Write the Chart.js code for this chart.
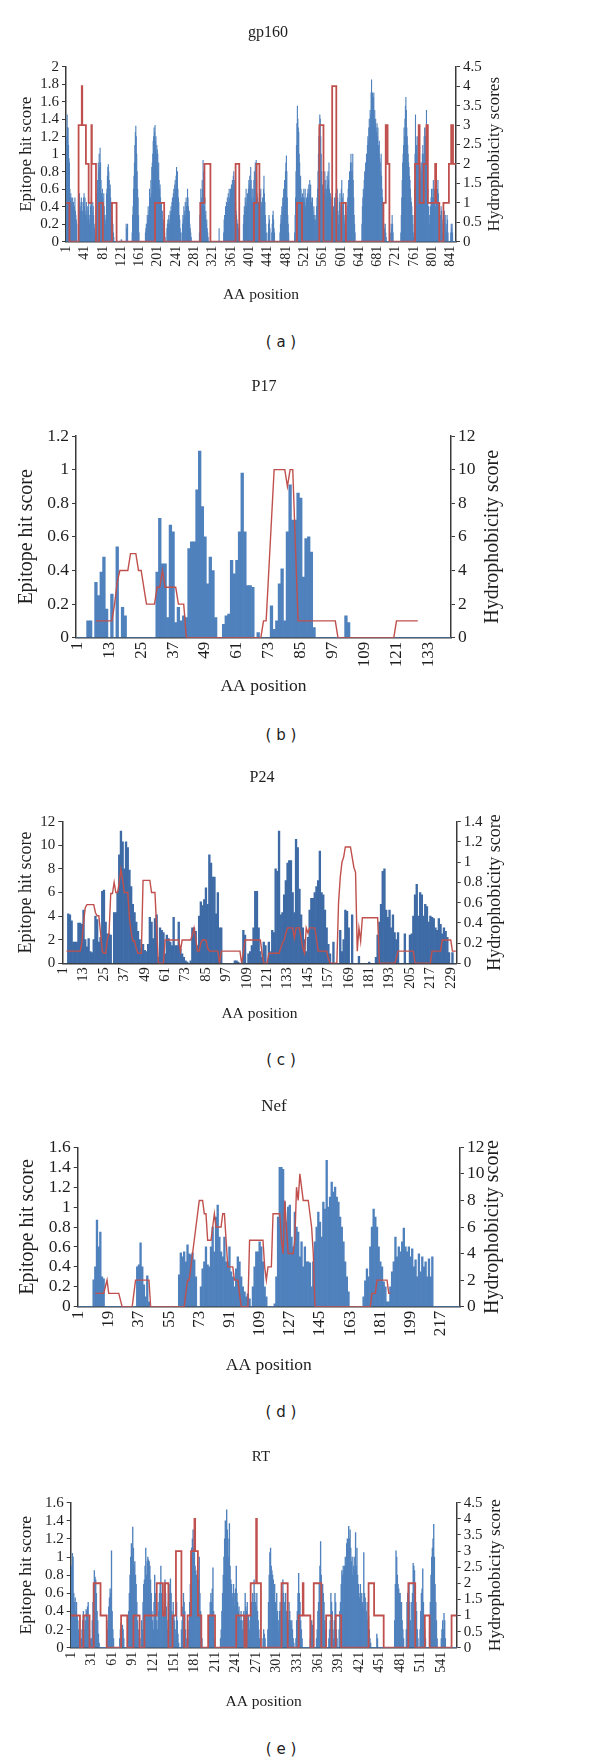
<!DOCTYPE html>
<html>
<head>
<meta charset="utf-8">
<title>Epitope hit score and hydrophobicity score</title>
<script src="https://cdn.jsdelivr.net/npm/chart.js@4.4.1/dist/chart.umd.min.js"></script>
<style>
  html, body { margin: 0; padding: 0; background: #fff; }
  body { position: relative; width: 600px; height: 1764px; overflow: hidden; }
  canvas { position: absolute; left: 0; }
  .cap { position: absolute; left: 181px; width: 200px; text-align: center;
         font-family: "DejaVu Sans", sans-serif; font-size: 15px; line-height: 20px; color: #222; }
</style>
</head>
<body>
<canvas id="gp160"></canvas>
<canvas id="p17"></canvas>
<canvas id="p24"></canvas>
<canvas id="nef"></canvas>
<canvas id="rt"></canvas>
<div class="cap" style="top:332px">( a )</div>
<div class="cap" style="top:725px">( b )</div>
<div class="cap" style="top:1050px">( c )</div>
<div class="cap" style="top:1402px">( d )</div>
<div class="cap" style="top:1739px">( e )</div>
<script>
// ---- gp160 : epitope hit score per residue (1..852) ----
const gpBars = [
  1.0,1.2,1.45,1.3,1.3,1.1,0.95,0.9, 0.6,0.5,0.55,0.5,0.45,0.4,0.5,0.35, 0.45,0.3,0.4,0.5,0.35,0.3,0.25,0.2, 0,0,0,0.3,0.4,0.55,0.45,0.35, 0.4,0.5,0.45,0.3,0.35,0.45,0.5,0.55,
  0.4,0.5,0.3,0.35,0.45,0.3,0.25,0.4, 0.35,0.45,0.3,0.2,0.25,0.4,0.45,0.5, 0.35,0.3,0.45,0.4,0.3,0.2,0.15,0.05, 0,0.1,0.4,0.55,0.7,0.6,0.9,0.8, 1.0,0.85,1.07,0.9,0.7,0.55,0.5,0.6,
  0.5,0.45,0.55,0.4,0.3,0.25,0.2,0.3, 0.55,0.6,0.75,0.85,0.88,0.8,0.7,0.6, 0.65,0.5,0.4,0.45,0.3,0.25,0.2,0.1, 0.05,0,0,0,0,0,0,0, 0,0,0,0,0,0,0,0,
  0.02,0.02,0,0,0,0,0,0, 0,0,0,0.2,0.15,0,0.2,0, 0,0,0,0,0,0,0,0, 0.1,0.3,0.4,0.6,0.75,0.9,1.1,1.25, 1.32,1.2,1.0,0.8,0.6,0.5,0.3,0.1,
  0,0,0,0,0,0,0,0, 0,0,0,0,0,0.1,0.15,0.2, 0.2,0.3,0.25,0.4,0.3,0.35,0.6,0.45, 0.5,0.7,0.55,0.85,0.9,1.0,1.15,1.2, 1.3,1.25,1.33,1.15,1.2,1.0,1.1,1.05,
  1.0,0.8,0.9,0.7,0.6,0.65,0.5,0.4, 0.45,0.3,0.35,0.2,0.25,0.15,0.1,0.1, 0.05,0,0,0,0.15,0.2,0.25,0.2, 0.3,0.25,0.2,0.35,0.3,0.4,0.35,0.45, 0.5,0.4,0.55,0.6,0.5,0.65,0.7,0.6,
  0.75,0.85,0.7,0.8,0.6,0.5,0.45,0.3, 0.25,0.15,0.1,0,0,0.1,0.2,0.3, 0.25,0.4,0.3,0.35,0.45,0.3,0.5,0.4, 0.45,0.6,0.5,0.4,0.3,0.35,0.2,0.15, 0.1,0.05,0,0,0,0,0,0,
  0,0,0,0,0,0,0,0, 0,0,0,0.1,0.3,0.45,0.6,0.4, 0.5,0.7,0.6,0.93,0.8,0.55,0.4,0.5, 0.3,0.35,0.2,0.25,0.15,0.1,0.05,0, 0,0,0,0,0,0,0,0,
  0,0,0,0,0,0,0,0, 0,0,0,0,0,0,0.15,0, 0,0,0,0,0,0,0,0, 0.1,0.25,0.3,0.2,0.4,0.3,0.45,0.35, 0.5,0.4,0.55,0.45,0.6,0.5,0.4,0.6,
  0.55,0.65,0.5,0.7,0.6,0.75,0.8,0.65, 0.7,0.5,0.45,0.35,0.3,0.25,0.2,0.2, 0.15,0.1,0,0,0,0,0,0, 0,0,0,0.2,0.3,0.4,0.35,0.5, 0.45,0.6,0.4,0.5,0.55,0.35,0.6,0.7,
  0.65,0.75,0.6,0.85,0.7,0.5,0.6,0.45, 0.6,0.5,0.7,0.8,0.6,0.9,0.85,0.93, 0.7,0.55,0.5,0.4,0.45,0.35,0.5,0.4, 0.55,0.6,0.4,0.45,0.3,0.5,0.4,0.6, 0.75,0.55,0.45,0.3,0.2,0.1,0,0,
  0,0.1,0.2,0.3,0.25,0.15,0,0, 0,0.1,0.2,0.3,0.35,0.25,0.15,0.1, 0,0,0,0,0,0,0,0, 0,0,0,0.1,0.2,0.3,0.25,0.4, 0.35,0.5,0.45,0.6,0.55,0.7,0.65,0.8,
  0.9,0.98,0.8,0.5,0.3,0.2,0.1,0, 0,0,0,0,0,0,0,0, 0,0,0,0.1,0.3,0.5,0.8,1.1, 1.35,1.55,1.4,1.3,1.25,1.0,0.9,0.7, 0.75,0.6,0.5,0.4,0.55,0.45,0.5,0.6,
  0.5,0.45,0.6,0.4,0.35,0.5,0.45,0.55, 0.6,0.5,0.65,0.55,0.7,0.6,0.65,0.5, 0.45,0.4,0.5,0.35,0.3,0.4,0.25,0.3, 0.2,0.25,0.3,0.4,0.5,0.6,0.8,1.0, 1.2,1.3,1.45,1.4,1.2,1.0,0.8,0.6,
  0.65,0.5,0.6,0.7,0.55,0.8,0.6,0.7, 0.5,0.6,0.75,0.65,0.8,0.7,0.9,0.6, 0.5,0.55,0.4,0.5,0.3,0.2,0.15,0.3, 0.4,0.3,0.5,0.45,0.35,0.55,0.5,0.4, 0.6,0.5,0.3,0.2,0.35,0.45,0.55,0.3,
  0.4,0.6,0.7,0.5,0.4,0.55,0.45,0.3, 0.2,0.25,0.3,0.15,0.1,0.3,0.4,0.5, 0.6,0.7,0.65,0.8,0.7,0.9,1.0,0.8, 0.9,0.8,1.0,0.7,0.5,0.3,0.2,0.1, 0,0,0,0,0,0,0,0,
  0,0,0,0,0,0,0.2,0.4, 0.5,0.6,0.55,0.7,0.8,0.75,0.9,0.85, 1.0,0.95,1.1,1.2,1.15,1.3,1.4,1.3, 1.5,1.45,1.7,1.85,1.6,1.7,1.55,1.65, 1.7,1.4,1.5,1.35,1.4,1.3,1.25,1.35,
  1.2,1.3,1.1,1.0,1.15,0.95,0.9,0.8, 1.0,0.75,0.6,0.5,0.4,0.3,0.2,0.15, 0.1,0.2,0.1,0.05,0,0,0,0, 0,0,0,0,0,0.1,0.2,0.15, 0.3,0.2,0.1,0,0,0,0,0,
  0,0,0,0,0,0,0,0, 0,0,0,0.1,0.3,0.5,0.7,0.9, 1.0,1.1,1.3,1.2,1.4,1.55,1.65,1.5, 1.3,1.2,1.1,1.0,0.9,0.85,0.75,0.7, 0.6,0.5,0.45,0.4,0.3,0.2,0.1,0.05,
  0.3,0.6,1.0,1.45,1.2,1.1,1.0,0.9, 1.2,1.1,1.0,0.9,0.8,0.85,0.7,0.9, 0.8,0.9,1.0,1.1,1.0,0.85,1.2,1.3, 1.1,1.2,1.3,1.5,1.2,0.9,0.6,0.4, 0.4,0.3,0.2,0.3,0.4,0.5,0.6,0.5,
  0.5,0.6,0.7,0.5,0.45,0.6,0.5,0.4, 0.3,0.5,0.4,0.6,0.7,0.55,0.4,0.3, 0.35,0.2,0.3,0.4,0.35,0.2,0.1,0.25, 0.3,0.2,0.35,0.25,0.3,0.15,0.2,0.1, 0.3,0.25,0.1,0,0,0,0,0,
  0.1,0.2,0.15,0.2,0.1,0,0,0,0,0,0,0
];
// gp160 hydrophobicity: position where a level starts, and the level
const gpHydroPos = [1,8,28,35,36,44,50,56,57,66, 73,81,101,111,195,215,294,303,316,371,
  379,411,417,423,505,516,554,563,582,591, 602,612,694,699,703,707,763,771,773,782,
  788,791,807,809,816,825,837,842,846,852];
const gpHydroVal = [1,0,3,4,3,2,1,3,2,0, 1,0,1,0,1,0,1,2,0,2,
  0,1,2,0,1,0,3,0,4,0, 1,0,1,3,2,0,2,3,1,2,
  3,1,2,1,0,1,2,3,2,2];

// ---- P17 (1..141) ----
const p17Bars = [
  0,0,0,0,0.1,0.1,0,0.33, 0.25,0.39,0.48,0.17,0,0.26,0,0.54, 0,0.18,0.13,0,0,0,0,0, 0,0,0,0,0,0,0.39,0.71,
  0.44,0.44,0.12,0.67,0.63,0.09,0.18,0.1, 0.13,0.12,0.53,0.57,0.57,0.88,1.11,0.78, 0.6,0.32,0.48,0.4,0.12,0,0,0.08,
  0.13,0.14,0.46,0.38,0.46,0.63,0.98,0.63, 0.31,0.31,0.3,0,0.03,0,0,0, 0,0.19,0.05,0.1,0.32,0.41,0.1,0.63,
  0.91,0.7,0.7,0.86,0.83,0.36,0.59,0.6, 0.51,0.06,0,0,0,0,0,0, 0,0,0,0,0,0.13,0.09,0,
  0,0,0,0,0,0,0,0, 0,0,0,0,0,0,0,0, 0,0,0,0,0,0,0,0, 0,0,0,0,0,0,0,0, 0,0,0,0,0
];
const p17Hydro = [
  null,null,null,null,null,null,null,1, 1,1,1,1,1,1,2,3.3, 4,4,4,4,5,5,5,4, 4,3,2,2,2,2,3,3,
  4,3,3,3,3,3,2,2, 2,0,0,0,0,0,0,0, 0,0,0,0,0,0,0,0, 0,0,0,0,0,0,0,0,
  0,0,0,0,0,0,1,1, 4,7,10,10,10,10,10,9, 10,10,5.5,1,1,1,1,1, 1,1,1,1,1,1,1,1,
  1,1,0,0,0,0,0,0, 0,0,0,0,0,0,0,0, 0,0,0,0,0,0,0,0, 1,1,1,1,1,1,1,1,
  1,null,null,null,null,null,null,null, null,null,null,null,null
];

// ---- P24 (1..232) ----
const p24Bars = [
  0,0,0,4.2,4.1,3.6,1.8,1.8, 1.8,3.4,3.4,3.3,4.5,2.0,1.4,2.1, 1.0,0.9,2.0,4.0,3.7,1.8,2.2,6.1, 6.2,3.5,2.5,2.5,2.4,0,4.3,4.3,
  6.0,9.2,11.2,10.3,8.0,10.3,9.8,7.9, 6.5,5.0,4.3,3.5,2.7,2.0,1.3,1.6, 1.1,1.0,1.6,3.9,3.5,2.1,3.8,4.1, 0.5,3.0,2.8,2.6,0.8,2.4,2.1,1.8,
  1.5,3.9,1.5,1.5,3.5,1.2,0.8,0.5, 0.2,0.1,0,0.2,3.0,3.0,2.7,1.5, 4.0,5.2,4.9,5.4,6.4,5.0,9.2,8.5, 7.3,7.3,4.2,6.0,3.0,3.0,0,0,
  0,0,0,0,0,0.2,0.2,0.1, 0,0,2.8,2.4,0,0.8,1.0,1.5, 3.0,6.1,6.1,3.0,1.0,0.5,1.8,1.5, 0,1.8,1.0,2.8,2.6,8.0,7.8,11.2,
  4.1,4.3,5.8,7.0,8.5,8.7,8.7,6.0, 4.3,10.5,9.8,6.3,4.1,3.0,2.0,1.0, 2.2,4.5,5.5,5.5,6.0,6.5,7.0,9.5, 6.0,5.8,4.5,3.0,1.6,0.8,0,1.8,
  0,0,0,2.8,1.0,2.0,4.5,4.4, 3.0,0,4.1,0,0,0,0.6,0, 0,0,0,0,0.1,0,0,0, 0.5,2.4,3.5,5.0,7.8,8.0,4.5,3.9,
  4.5,3.0,4.1,2.6,2.0,2.6,0,0, 0,2.5,0,0,2.4,2.5,4.0,5.8, 6.7,4.0,6.0,5.8,4.0,5.0,4.8,3.5, 4.0,3.9,3.8,3.0,2.8,3.8,3.3,2.5,
  3.0,2.7,2.2,0.9,0,0.9,0,0
];
const p24Hydro = [
  null,null,0.12,0.12,0.12,0.12,0.12,0.12, 0.12,0.12,0.12,0.2,0.4,0.55,0.58,0.58, 0.58,0.58,0.58,0.5,0.47,0.47,0.3,0.12, 0.1,0.1,0.23,0.3,0.69,0.69,0.8,0.7,
  0.7,0.8,0.93,0.82,0.7,0.7,0.7,0.45, 0.3,0.22,0.22,0.15,0.1,0.1,0.1,0.82, 0.82,0.82,0.82,0.82,0.7,0.7,0.7,0.35, 0,0,0,0,0.23,0.23,0.23,0.23,
  0.23,0.23,0.23,0.23,0.23,0.12,0.23,0.23, 0.23,0.23,0.23,0.23,0.28,0.35,0.25,0.12, 0.12,0.2,0.23,0.23,0.23,0.15,0.12,0.12, 0.12,0.12,0.12,0.12,0,0.12,0.12,0.12,
  0.12,0.12,0.12,0.12,0.12,0.12,0.12,0.12, 0.12,0,0.1,0.23,0.23,0.23,0.23,0.23, 0.23,0.23,0.23,0.23,0.23,0.1,0,0, 0,0.1,0.1,0.1,0.1,0.1,0.1,0.1,
  0.15,0.2,0.23,0.3,0.35,0.35,0.35,0.35, 0.25,0.35,0.35,0.35,0.25,0.15,0.1,0.35, 0.3,0.35,0.35,0.35,0.35,0.25,0.12,0.12, 0.12,0.12,0.12,0.12,0.05,0,0,0,
  0,0,0.6,0.85,1.0,1.05,1.15,1.15, 1.15,1.15,1.05,0.95,0.9,0.12,0.35,0.22, 0.45,0.45,0.45,0.45,0.45,0.45,0.45,0.45, 0.45,0.45,0,0,0,0,0,0,
  0,0,0,0,0.05,0.12,0.12,0.12, 0.12,0.12,0.12,0.12,0.12,0.12,0.12,0, 0,0,0,0,0,0,0,0, 0,0.12,0.12,0.12,0.12,0.12,0.12,0.23,
  0.23,0.23,0.23,0.23,0.23,0.12,0.12,0.12
];

// ---- Nef (1..228) ----
const nefBars = [
  0,0,0,0,0,0,0,0, 0,0.27,0.4,0.87,0.6,0.75,0.3,0.28, 0,0,0,0,0,0,0,0, 0,0,0,0,0,0,0,0,
  0,0,0,0.4,0.42,0.64,0.4,0.22, 0.1,0.31,0.05,0,0,0,0,0, 0,0,0,0,0,0,0,0, 0,0,0,0,0.32,0.54,0.5,0.55,
  0.45,0.62,0.53,0.52,0.54,0.47,0.3,0, 0,0.2,0.38,0.45,0.6,0.42,0.4,0.6, 0.8,0.55,0.9,1.02,0.7,0.55,0.5,0.7, 0.45,0.45,0.6,0.35,0.3,0.2,0.38,0.5,
  0.45,0.3,0.2,0.15,0.1,0.13,0.08,0, 0.2,0.4,0.55,0.55,0.65,0.6,0.45,0.2, 0.1,0,0,0,0,0.03,0.3,0.9, 1.4,1.4,1.38,1.05,0.85,1.0,1.02,0.7,
  0.6,0.95,0.8,0.75,0.5,0.65,0.4,0.6, 0.45,0.45,0.44,0.2,0.45,0.65,0.8,0.95, 0.85,0.7,1.05,0.98,1.47,1.0,1.1,1.25, 1.15,1.2,1.1,1.05,0.9,0.8,0.65,0.45,
  0.3,0.15,0,0,0,0,0,0, 0,0,0.1,0.26,0.38,0.3,0.6,0.8, 0.98,0.9,0.8,0.6,0.45,0.4,0.25,0.2, 0.05,0.05,0.2,0.35,0.45,0.7,0.5,0.6,
  0.55,0.65,0.79,0.6,0.55,0.6,0.5,0.58, 0.4,0.47,0.3,0.53,0.35,0.5,0.4,0.45, 0.3,0.48,0.3,0.5,0,0,0,0, 0,0,0,0,0,0,0,0,
  0,0,0,0
];
const nefHydro = [
  null,null,null,null,null,null,null,null, null,null,1,1,1,1,1,1, 1.5,2,1,1,1,1,1,1, 1,0.5,0,0,0,0,0,0,
  0,1,2,2,2,2,2,2, 2,2,2,0,0,0,0,0, 0,0,0,0,0,0,0,0, 0,0,0,0,0,0,0,0,
  1,2,2,3,4,5,6,7, 8,8,8,7,7,5,5,5, 6,7,6,6,6,6,7,7, 5,3,3,3,3,2,2,2,
  1,0,0,0,0,0,5,5, 5,5,5,5,5,5,5,3, 2,3,3,3,7,7,7,7, 7,5,4,8,6,4,4,4,
  4,5,9,8,10,9,8,8, 8,8,7,6,4,0,0,0, 0,0,0,0,0,0,0,0, 0,0,0,0,0,0,0,0,
  0,0,0,0,0,0,0,0, 0,0,0,0,0,0,0,1, 1,1,2,2,2,2,2,2, 2,1,1
];

// ---- RT (1..563) ----
const rtBars = [
  0.3,0.9,1.04,1.0,0.6,0.5,0.55,0.4, 0.5,0.35,0.3,0.2,0.15,0.1,0,0.1, 0.2,0.3,0.4,0.35,0.2,0.3,0.42,0.4, 0.45,0.5,0.3,0.2,0.1,0.05,0.1,0.3,
  0.5,0.7,0.85,0.78,0.75,0.6,0.4,0.3, 0.15,0.05,0,0,0,0,0,0, 0,0,0,0,0.1,0.2,0.3,0.45, 0.55,0.65,0.6,1.07,0.4,0.2,0.1,0,
  0,0,0,0,0,0,0,0.1, 0.2,0.27,0.15,0.25,0.2,0.1,0,0, 0,0,0,0.2,0.4,0.6,0.8,1.0, 1.15,1.0,1.33,1.1,0.9,0.95,0.8,0.7,
  0.5,0.3,0.2,0.1,0,0,0.1,0.3, 0.2,0.5,0.7,0.75,0.9,1.1,0.8,0.95, 1.0,0.97,0.95,0.9,0.75,0.6,0.4,0.3, 0.2,0.5,0.8,0.6,0.5,0.3,0.2,0.5,
  0.4,0.6,0.7,0.9,0.6,0.5,0.3,0.4, 0.5,0.75,0.6,0.45,0.3,0.2,0.5,0.7, 0.6,0.76,0.6,0.4,0.3,0.5,0.35,0.3, 0.2,0.1,0.5,0.3,0.15,0.05,0,0,
  0,0.2,0.3,0.45,0.6,0.5,0.4,0.2, 0.1,0,0,0.2,0.3,0.5,0.7,1.0, 1.1,1.2,1.3,1.1,1.05,0.9,0.85,0.8, 0.7,0.6,0.75,1.0,0.6,0.4,0.2,0.1,
  0,0,0,0,0,0,0,0, 0,0.2,0.35,0.5,0.6,0.5,0.65,0.88, 0.4,0.1,0,0,0,0,0,0, 0,0,0.1,0.2,0.4,0.6,0.8,1.0,
  1.2,1.4,1.35,1.52,1.3,1.2,1.0,1.37, 0.9,0.75,0.7,0.6,0.55,0.7,0.6,0.45, 0.65,0.9,0.6,0.5,0.4,0.45,0.35,0.3, 0.4,0.3,0.2,0.3,0.4,0.35,0.6,0.45,
  0.4,0.5,0.3,0.35,0.2,0.3,0.4,0.5, 0.35,0.6,0.5,0.75,0.6,0.5,0.45,0.6, 0.4,0.3,0.2,0.1,0,0,0,0, 0.1,0.2,0.15,0.1,0,0,0,0.2,
  0.5,0.8,1.05,1.1,0.9,0.85,0.8,0.75, 0.6,0.7,0.5,0.35,0.6,0.4,0.2,0.3, 0.4,0.5,0.4,0.6,0.5,0.75,0.6,0.5, 0.3,0.6,0.4,0.3,0.2,0.3,0.5,0.4,
  0.3,0.25,0.3,0.2,0.1,0.05,0,0, 0.1,0.3,0.4,0.6,0.82,0.6,0.5,0.3, 0.2,0.1,0,0,0,0,0,0, 0,0,0,0,0,0.1,0.2,0.3,
  0.25,0.1,0,0,0,0,0.1,0.2, 0.4,0.5,0.7,0.9,1.17,0.8,0.6,0.7, 0.6,0.5,0.3,0.2,0.1,0,0,0, 0.1,0.2,0.3,0.6,0.5,0.4,0.2,0.1,
  0.3,0.6,0.5,0.2,0.1,0,0,0.2, 0.4,0.5,0.7,0.85,0.8,0.9,0.85,0.9, 1.0,0.9,1.15,1.2,1.1,1.34,1.2,1.3, 1.1,0.95,1.0,0.8,0.9,1.0,0.85,1.27,
  0.9,1.1,0.8,0.7,0.6,0.55,0.7,0.5, 0.6,0.5,0.45,1.05,0.6,0.55,0.5,0.4, 0.3,0.5,0.35,0.2,0.1,0.05,0,0, 0,0,0,0,0,0,0.15,0.1,
  0,0,0,0,0,0,0,0, 0,0,0,0,0,0,0,0, 0,0,0,0,0,0,0,0, 0.3,0.7,1.07,1.0,0.8,0.7,0.65,0.6,
  0.6,0.5,0.5,0.3,0.2,0.1,0,0, 0,0.2,0.5,0.6,0.62,0.7,0.5,0.3, 0.2,0.5,0.6,0.93,0.9,0.85,0.6,0.5, 0.4,0.2,0.1,0,0,0.2,0.4,0.6,
  0.65,0.87,0.5,0.3,0.2,0.1,0,0, 0,0,0,0.2,0.5,0.8,1.0,1.1, 1.2,1.36,1.0,0.7,0.5,0.3,0.1,0, 0,0,0,0,0.1,0.2,0.3,0.2,
  0.38,0.3,0.1,0,0,0,0,0, 0,0,0,0,0,0,0,0, 0,0,0
];
const rtHydroPos = [1,14,19,28,34,44,53,74,83,92, 101,108,126,135,138,143,149,154,162,166,
  171,176,181,182,186,191,201,211,242,254, 257,263,271,272,278,308,317,333,339,340,
  350,355,366,373,381,387,395,435,443,457, 493,503,517,524,556,563];
const rtHydroVal = [1,0,1,0,2,1,0,1,0,1, 0,1,2,1,2,0,1,3,1,0,
  1,3,4,3,1,0,1,0,1,0, 1,2,4,2,0,2,0,1,2,1,
  0,2,0,1,0,1,0,2,1,0, 2,0,1,0,1,1];

const BLUE = '#4f81bd';
const RED = '#c0504d';
const TXT = '#1e1e1e';
const AXIS = '#3a3a3a';
Chart.defaults.font.family = '"Liberation Serif", "Times New Roman", serif';

const panelText = {
  id: 'panelText',
  afterDraw(chart, args, o) {
    const ctx = chart.ctx, a = chart.chartArea;
    ctx.save();
    ctx.fillStyle = TXT;
    ctx.textAlign = 'center';
    ctx.textBaseline = 'middle';
    ctx.font = o.titleSize + 'px "Liberation Serif"';
    ctx.fillText(o.title, o.titleX, o.titleY);
    ctx.translate(o.rightX, (a.top + a.bottom) / 2);
    ctx.rotate(-Math.PI / 2);
    ctx.font = o.rightSize + 'px "Liberation Serif"';
    ctx.fillText(o.rightText, 0, 0);
    ctx.restore();
  }
};

const plainNum = v => String(Math.round(v * 100) / 100);

const panels = [
  { id: 'gp160', title: 'gp160', n: 852, every: 40, bars: gpBars, steps: [gpHydroPos, gpHydroVal],
    barColor: BLUE, lineW: 1.8, yMax: 2, yStep: 0.2, y1Max: 4.5, y1Step: 0.5, right: 'Hydrophobicity scores',
    box: { tx: 268, ty: 33, l: 66, r: 456, t: 66.7, b: 241.7, lt: 26.7, rt: 495, at: 295 },
    f: { title: 16, tick: 15, xtick: 14, v: 17, x: 15.5 } },
  { id: 'p17', title: 'P17', n: 141, every: 12, bars: p17Bars, line: p17Hydro,
    barColor: BLUE, lineW: 1.4, yMax: 1.2, yStep: 0.2, y1Max: 12, y1Step: 2, right: 'Hydrophobicity score',
    box: { tx: 264, ty: 387, l: 76, r: 451, t: 436, b: 637.7, lt: 26.7, rt: 493, at: 686.7 },
    f: { title: 16, tick: 17.5, xtick: 17, v: 20, x: 17.5 } },
  { id: 'p24', title: 'P24', n: 232, every: 12, bars: p24Bars, line: p24Hydro,
    barColor: '#3e6ba6', lineW: 1.4, yMax: 12, yStep: 2, y1Max: 1.4, y1Step: 0.2, right: 'Hydrophobicity score',
    box: { tx: 262, ty: 778, l: 62.3, r: 456.7, t: 821.7, b: 963.3, lt: 26.7, rt: 495, at: 1014 },
    f: { title: 16, tick: 15, xtick: 14.5, v: 18, x: 15.5 } },
  { id: 'nef', title: 'Nef', n: 228, every: 18, bars: nefBars, line: nefHydro,
    barColor: BLUE, lineW: 1.4, yMax: 1.6, yStep: 0.2, y1Max: 12, y1Step: 2, right: 'Hydrophobicity score',
    box: { tx: 274, ty: 1107, l: 77.7, r: 460, t: 1147.3, b: 1306.7, lt: 27.7, rt: 493, at: 1365 },
    f: { title: 17, tick: 17.5, xtick: 17, v: 20, x: 17.5 } },
  { id: 'rt', title: 'RT', n: 563, every: 30, bars: rtBars, steps: [rtHydroPos, rtHydroVal],
    barColor: BLUE, lineW: 1.8, yMax: 1.6, yStep: 0.2, y1Max: 4.5, y1Step: 0.5, right: 'Hydrophobicity score',
    box: { tx: 261, ty: 1457, l: 70.7, r: 456.7, t: 1502.7, b: 1647.7, lt: 26.7, rt: 495, at: 1701.7 },
    f: { title: 15, tick: 15, xtick: 14, v: 17.5, x: 15.5 } }
];

function build(p) {
  const b = p.box, f = p.f;
  const labels = Array.from({ length: p.n }, (_, i) => String(i + 1));
  const top = Math.round(b.ty - 14);
  const xAxisH = b.at - b.b + 0.6 * f.x + 3;
  const cv = document.getElementById(p.id);
  cv.width = 600;
  cv.height = Math.round(b.b - top + xAxisH);
  cv.style.top = top + 'px';
  const lineData = p.steps
    ? p.steps[0].map((pos, i) => ({ x: String(pos), y: p.steps[1][i] }))
    : p.line;

  new Chart(cv, {
    type: 'bar',
    data: {
      labels: labels,
      datasets: [
        { type: 'line', data: lineData, yAxisID: 'y1', borderColor: RED, borderWidth: p.lineW,
          pointRadius: 0, fill: false, tension: 0, stepped: p.steps ? 'before' : false, order: 0 },
        { type: 'bar', data: p.bars, yAxisID: 'y', backgroundColor: p.barColor, borderWidth: 0,
          barPercentage: 1, categoryPercentage: 1, order: 1 }
      ]
    },
    options: {
      responsive: false,
      animation: false,
      devicePixelRatio: 1,
      events: [],
      layout: { padding: { top: b.t - top, left: 0, right: 0, bottom: 0 } },
      plugins: {
        legend: { display: false },
        tooltip: { enabled: false },
        panelText: { title: p.title, titleX: b.tx, titleY: b.ty - top, titleSize: f.title,
                     rightText: p.right, rightX: b.rt, rightSize: f.v }
      },
      scales: {
        x: {
          type: 'category', offset: true,
          grid: { display: false, drawTicks: false },
          border: { display: true, color: AXIS, width: 1.5 },
          ticks: { autoSkip: false, minRotation: 90, maxRotation: 90, padding: 4, color: TXT,
                   font: { size: f.xtick },
                   callback: (v, i) => (i % p.every === 0 ? labels[i] : null) },
          title: { display: true, text: 'AA position', color: TXT, font: { size: f.x },
                   padding: { top: 0, bottom: 3 } },
          afterFit: s => { s.height = cv.height - (b.b - top); }
        },
        y: {
          position: 'left', min: 0, max: p.yMax,
          ticks: { stepSize: p.yStep, autoSkip: false, color: TXT, font: { size: f.tick }, padding: 3,
                   callback: plainNum },
          grid: { drawOnChartArea: false, drawTicks: true, tickLength: 4, color: AXIS },
          border: { color: AXIS, width: 1.5 },
          title: { display: true, text: 'Epitope hit score', color: TXT, font: { size: f.v },
                   padding: { top: b.lt - 0.6 * f.v, bottom: 0 } },
          afterFit: s => { s.width = b.l; }
        },
        y1: {
          position: 'right', min: 0, max: p.y1Max,
          ticks: { stepSize: p.y1Step, autoSkip: false, color: TXT, font: { size: f.tick }, padding: 3,
                   callback: plainNum },
          grid: { drawOnChartArea: false, drawTicks: true, tickLength: 4, color: AXIS },
          border: { color: AXIS, width: 1.5 },
          afterFit: s => { s.width = 600 - b.r; }
        }
      }
    },
    plugins: [panelText]
  });
}

panels.forEach(build);
</script>
</body>
</html>
